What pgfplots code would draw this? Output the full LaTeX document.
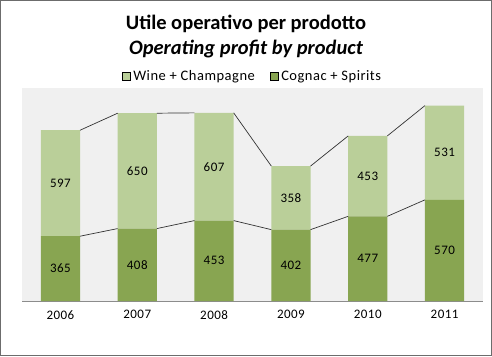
\documentclass[border=0pt]{standalone}
\usepackage{pgfplots}
\pgfplotsset{compat=1.18}
\usepackage{fontspec}
\setmainfont{Carlito}
\newfontfamily\widefont[LetterSpace=3.5]{Carlito}
\definecolor{light}{HTML}{BACF99}
\definecolor{dark}{HTML}{88A551}
\definecolor{bgc}{HTML}{F0F0F0}
\definecolor{axisc}{HTML}{8C8C8C}
\begin{document}
\begin{tikzpicture}[x=1pt,y=1pt]
\draw[draw=gray!85!black, line width=1pt] (0.5,0.5) rectangle (491.5,355.5);
\node[font=\fontsize{20.5}{22}\selectfont\bfseries] at (246,332) {Utile operativo per prodotto};
\node[font=\fontsize{20.5}{22}\selectfont\bfseries\itshape] at (246,307) {Operating profit by product};
\begin{axis}[
  at={(22pt,55pt)}, anchor=south west,
  scale only axis, width=461pt, height=213pt,
  ybar stacked, bar width=0.51,
  xmin=-0.5, xmax=5.5, ymin=0, ymax=1200,
  axis x line*=bottom, axis y line=none,
  x axis line style={draw=axisc, line width=0.8pt},
  axis background/.style={fill=bgc},
  xtick={0,...,5}, xticklabels={2006,2007,2008,2009,2010,2011},
  xtick style={draw=none},
  xticklabel style={font=\widefont\fontsize{13}{15}\selectfont, yshift=-6pt},
  ytick=\empty,
  legend columns=2,
  legend style={at={(0.5,1.056)}, anchor=center, draw=none, fill=none,
    font=\widefont\fontsize{14.5}{16}\selectfont},
  legend image code/.code={\fill[#1] (0pt,-4pt) rectangle (8pt,4pt);},
]
\addlegendimage{fill=light}
\addlegendentry{\rule{0pt}{0pt}\kern1pt Wine + Champagne\rule{13pt}{0pt}}
\addlegendimage{fill=dark}
\addlegendentry{\kern1pt Cognac + Spirits}
\addplot[fill=dark, draw=none, forget plot] coordinates {(0,365) (1,408) (2,453) (3,402) (4,477) (5,570)};
\addplot[fill=light, draw=none, forget plot] coordinates {(0,597) (1,650) (2,607) (3,358) (4,453) (5,531)};
\end{axis}
\begin{axis}[
  at={(22pt,55pt)}, anchor=south west,
  scale only axis, width=461pt, height=213pt,
  xmin=-0.5, xmax=5.5, ymin=0, ymax=1200,
  hide axis, unbounded coords=jump,
]
\addplot[color=black!80, line width=0.7pt, mark=none] table {
x y
0.255 365
0.745 408
nan nan
1.255 408
1.745 453
nan nan
2.255 453
2.745 402
nan nan
3.255 402
3.745 477
nan nan
4.255 477
4.745 570
};
\addplot[color=black!80, line width=0.7pt, mark=none] table {
x y
0.255 962
0.745 1058
nan nan
1.255 1058
1.745 1060
nan nan
2.255 1060
2.745 760
nan nan
3.255 760
3.745 930
nan nan
4.255 930
4.745 1101
};
\addplot[draw=none, mark=none, nodes near coords, point meta=explicit symbolic,
  every node near coord/.append style={anchor=center, font=\widefont\fontsize{13}{15}\selectfont, text=black}]
  table[meta=label] {
x y label
0 182.5 365
1 204 408
2 226.5 453
3 201 402
4 238.5 477
5 285 570
0 663.5 597
1 733 650
2 756.5 607
3 581 358
4 703.5 453
5 835.5 531
};
\end{axis}
\end{tikzpicture}
\end{document}
